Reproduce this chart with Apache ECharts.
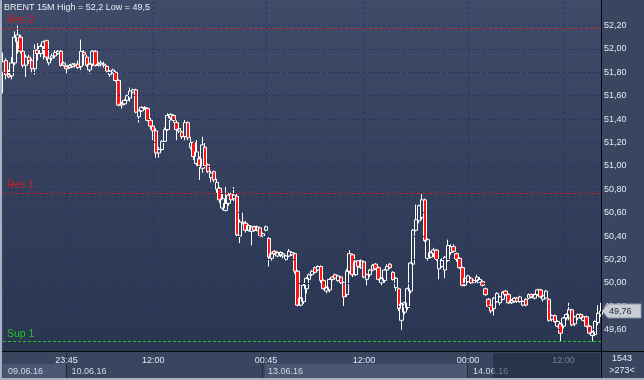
<!DOCTYPE html>
<html><head><meta charset="utf-8">
<script src="https://cdn.jsdelivr.net/npm/echarts@6/dist/echarts.min.js"></script>
<style>html,body{margin:0;padding:0;background:#3a4660;}#c{width:644px;height:380px;}</style>
</head><body><div id="c"></div>
<script>
const titleText = 'BRENT 15M High = 52,2 Low = 49,5';
const opens = [51.80,51.90,51.78,51.77,51.88,52.06,52.10,51.98,51.86,51.93,51.90,51.83,51.99,51.96,52.02,52.07,51.88,51.92,51.94,51.96,
51.98,51.86,51.85,51.84,51.85,51.87,51.87,51.85,51.97,51.93,51.82,51.87,51.98,51.86,51.87,51.87,51.85,51.78,51.80,51.80,
51.73,51.52,51.53,51.56,51.58,51.63,51.65,51.42,51.47,51.50,51.49,51.39,51.34,51.30,51.11,51.14,51.21,51.31,51.41,51.43,
51.37,51.30,51.29,51.25,51.37,51.16,51.20,51.02,51.06,50.98,51.16,51.01,50.90,50.95,50.80,50.81,50.64,50.62,50.68,50.76,
50.72,50.74,50.40,50.51,50.51,50.45,50.44,50.48,50.45,50.47,50.40,50.45,50.38,50.21,50.27,50.23,50.24,50.23,50.20,50.23,
50.24,50.25,50.10,49.81,49.84,49.95,50.03,50.07,50.13,50.11,50.14,50.02,49.93,49.94,50.03,50.07,50.02,50.05,50.00,49.90,
50.10,50.24,50.07,50.19,50.13,50.18,50.03,50.07,50.11,50.16,50.13,50.00,50.02,50.11,50.16,50.09,49.96,49.95,49.68,49.75,
49.79,49.93,50.16,50.45,50.53,50.56,50.71,50.21,50.22,50.25,50.28,50.12,50.14,50.11,50.19,50.26,50.31,50.25,50.21,50.13,
49.98,50.01,50.04,50.00,50.02,50.00,50.01,49.95,49.86,49.81,49.78,49.84,49.83,49.86,49.93,49.90,49.83,49.84,49.87,49.84,
49.81,49.86,49.87,49.90,49.87,49.90,49.94,49.86,49.87,49.86,49.69,49.72,49.63,49.65,49.63,49.70,49.70,49.77,49.65,49.70,
49.73,49.68,49.71,49.63,49.55,49.56,49.66,49.73];
const closes = [51.89,51.78,51.76,51.88,52.10,52.12,51.98,51.86,51.93,51.90,51.83,51.99,51.96,52.02,52.06,51.93,51.92,51.94,51.97,51.98,
51.86,51.88,51.83,51.86,51.87,51.86,51.84,51.98,51.95,51.86,51.87,51.98,51.86,51.87,51.88,51.86,51.81,51.81,51.82,51.73,
51.52,51.53,51.56,51.60,51.64,51.65,51.46,51.47,51.50,51.49,51.39,51.34,51.30,51.11,51.14,51.21,51.31,51.43,51.44,51.39,
51.31,51.32,51.25,51.37,51.24,51.20,51.08,51.12,51.00,51.18,51.00,50.95,50.94,50.88,50.86,50.71,50.72,50.68,50.75,50.71,
50.75,50.41,50.52,50.52,50.45,50.49,50.48,50.45,50.48,50.40,50.42,50.48,50.22,50.25,50.25,50.26,50.26,50.25,50.23,50.27,
50.26,50.10,49.81,49.87,49.98,50.04,50.07,50.10,50.09,50.14,50.02,49.95,49.96,50.03,50.05,50.04,50.06,50.00,49.88,50.10,
50.25,50.07,50.18,50.14,50.19,50.05,50.07,50.11,50.15,50.12,50.03,50.04,50.11,50.14,50.13,50.03,50.04,49.78,49.82,49.83,
49.95,50.17,50.45,50.54,50.66,50.71,50.36,50.37,50.26,50.28,50.20,50.20,50.19,50.22,50.32,50.31,50.27,50.20,50.13,49.98,
50.04,50.06,50.00,50.02,50.05,50.03,49.98,49.90,49.80,49.76,49.87,49.91,49.88,49.92,49.90,49.83,49.85,49.87,49.84,49.88,
49.84,49.81,49.90,49.88,49.90,49.94,49.88,49.89,49.93,49.68,49.72,49.67,49.67,49.57,49.70,49.73,49.77,49.64,49.71,49.73,
49.70,49.71,49.63,49.57,49.58,49.67,49.74,49.76];
const lows = [51.62,51.74,51.75,51.74,51.86,51.96,51.96,51.84,51.76,51.87,51.80,51.78,51.90,51.93,51.91,51.90,51.86,51.90,51.92,51.95,
51.85,51.85,51.79,51.83,51.84,51.84,51.83,51.82,51.86,51.85,51.79,51.85,51.85,51.85,51.85,51.84,51.80,51.76,51.79,51.72,
51.51,51.49,51.52,51.55,51.55,51.62,51.45,51.37,51.46,51.48,51.38,51.31,51.22,51.07,51.07,51.13,51.20,51.30,51.39,51.37,
51.22,51.28,51.23,51.22,51.22,51.14,51.05,51.00,50.88,50.94,50.98,50.94,50.86,50.86,50.77,50.68,50.62,50.61,50.66,50.69,
50.70,50.40,50.34,50.50,50.43,50.44,50.32,50.44,50.44,50.39,50.39,50.44,50.14,50.19,50.24,50.22,50.22,50.21,50.19,50.22,
50.23,50.08,49.80,49.80,49.82,49.91,50.02,50.06,50.08,50.10,50.00,49.94,49.91,49.92,50.02,50.03,50.01,49.99,49.80,49.88,
50.08,50.05,50.06,50.13,50.12,50.04,49.98,50.05,50.10,50.11,50.02,49.98,50.00,50.10,50.12,50.02,49.93,49.76,49.60,49.73,
49.77,49.91,50.14,50.44,50.51,50.54,50.35,50.19,50.21,50.22,50.19,50.03,50.13,50.04,50.18,50.24,50.26,50.18,50.12,49.97,
49.97,50.00,49.99,49.99,50.01,49.99,49.97,49.89,49.79,49.74,49.72,49.83,49.81,49.85,49.89,49.82,49.82,49.83,49.83,49.83,
49.80,49.80,49.86,49.87,49.86,49.89,49.87,49.84,49.86,49.67,49.67,49.66,49.62,49.50,49.61,49.68,49.68,49.63,49.63,49.68,
49.69,49.67,49.62,49.56,49.50,49.55,49.64,49.71];
const highs = [51.97,51.92,51.82,51.93,52.15,52.20,52.12,52.00,51.95,51.95,51.92,52.04,52.05,52.04,52.07,52.08,51.95,51.96,51.99,51.99,
51.99,51.89,51.86,51.87,51.88,51.88,51.90,52.08,51.99,51.95,51.88,51.99,51.99,51.89,51.90,51.89,51.86,51.82,51.83,51.81,
51.74,51.55,51.57,51.61,51.67,51.66,51.66,51.48,51.51,51.51,51.50,51.41,51.35,51.32,51.16,51.22,51.33,51.45,51.45,51.44,
51.39,51.34,51.30,51.40,51.38,51.25,51.21,51.22,51.08,51.25,51.20,51.02,50.96,50.96,50.89,50.82,50.76,50.82,50.77,50.77,
50.82,50.76,50.54,50.60,50.53,50.50,50.49,50.49,50.49,50.48,50.43,50.49,50.40,50.26,50.28,50.27,50.27,50.26,50.24,50.29,
50.27,50.26,50.11,49.88,50.00,50.05,50.08,50.11,50.14,50.15,50.15,50.03,49.97,50.04,50.06,50.08,50.07,50.06,50.01,50.12,
50.28,50.25,50.19,50.20,50.20,50.19,50.08,50.12,50.16,50.17,50.14,50.05,50.12,50.16,50.17,50.10,50.05,49.96,49.83,49.84,
49.96,50.18,50.46,50.67,50.67,50.76,50.72,50.38,50.27,50.30,50.29,50.22,50.21,50.23,50.37,50.33,50.33,50.26,50.22,50.14,
50.05,50.07,50.05,50.03,50.07,50.05,50.02,49.96,49.87,49.84,49.88,49.92,49.89,49.93,49.94,49.91,49.86,49.88,49.88,49.89,
49.85,49.87,49.91,49.91,49.91,49.95,49.95,49.90,49.94,49.87,49.73,49.73,49.68,49.66,49.71,49.74,49.83,49.78,49.72,49.74,
49.74,49.72,49.72,49.64,49.59,49.68,49.81,49.83];
const timeLabelIdx = [22, 52, 91, 125, 161, 194];
const timeLabels = ['23:45', '12:00', '00:45', '12:00', '00:00', '12:00'];
const dateStartIdx = [0, 22, 90, 161];
const dateLabels = ['09.06.16', '10.06.16', '13.06.16', '14.06.16'];
const priceTicks = [49.6, 49.8, 50.0, 50.2, 50.4, 50.6, 50.8, 51.0, 51.2, 51.4, 51.6, 51.8, 52.0, 52.2];
const levelNames = ['Res 2', 'Res 1', 'Sup 1'];
const levelValues = [52.18, 50.77, 49.50];
const lastPrice = 49.76;
const infoTop = '1543';
const infoBottom = '>273<';

const FONT = '"Liberation Sans", Arial, sans-serif';
const levelColors = ['#d01c1c', '#d01c1c', '#22c422'];
const levelDash = [[3, 3], [3, 3], [3, 2]];
const fmtPrice = v => v.toFixed(2).replace('.', ',');

const chart = echarts.init(document.getElementById('c'), null, {renderer: 'canvas', width: 644, height: 380});
const cats = closes.map((_, i) => String(i));
const ohlc = closes.map((c, i) => [opens[i], c, lows[i], highs[i]]);

chart.setOption({
  backgroundColor: '#3a4660',
  animation: false,
  textStyle: {fontFamily: FONT},
  grid: {left: 3, right: 43, top: 2.1, bottom: 26.9, show: false},
  xAxis: {
    type: 'category', data: cats, boundaryGap: false,
    axisLine: {show: false}, axisTick: {show: false},
    axisLabel: {
      interval: (i) => timeLabelIdx.includes(i),
      formatter: (v, i) => { const k = timeLabelIdx.indexOf(i); return k < 0 ? '' : timeLabels[k]; },
      color: '#dfe6f1', fontSize: 9, fontFamily: FONT, margin: 3
    },
    splitLine: {show: true, interval: (i) => timeLabelIdx.includes(i),
      lineStyle: {color: '#1c3363', type: [2, 3], width: 1}}
  },
  yAxis: {
    type: 'value', position: 'right', min: 49.4, max: 52.4, interval: 0.2,
    axisLine: {show: false}, axisTick: {show: false}, splitLine: {show: false},
    axisLabel: {formatter: v => (v < 49.5 || v > 52.3) ? '' : fmtPrice(v),
      color: '#e4eaf5', fontSize: 9, fontFamily: FONT, margin: 3}
  },
  series: [
    {type: 'line', data: [], silent: true, z: 1,
     markLine: {silent: true, symbol: ['none', 'none'], label: {show: false}, animation: false,
       lineStyle: {color: '#1c3363', type: [2, 3], width: 1},
       data: priceTicks.map(v => ({yAxis: v}))}},
    {type: 'candlestick', data: ohlc, barWidth: 4, z: 3,
     itemStyle: {color: 'rgba(0,0,0,0)', color0: '#ff1414', borderColor: '#ffffff', borderColor0: '#ffffff', borderWidth: 1},
     markLine: {silent: true, symbol: ['none', 'none'], animation: false,
       data: levelValues.map((v, i) => ({
         yAxis: v,
         lineStyle: {color: levelColors[i], type: levelDash[i], width: 1},
         label: {show: true, position: 'insideStartTop', formatter: levelNames[i], color: levelColors[i],
           fontSize: 10.5, fontFamily: FONT, distance: [4, 2]}
       }))}}
  ]
});

const px = i => chart.convertToPixel({xAxisIndex: 0}, i);
const els = [];
els.push({type: 'rect', z: -10, silent: true, shape: {x: 3, y: 0, width: 598, height: 351},
  style: {fill: new echarts.graphic.LinearGradient(0, 0, 0, 1, [{offset: 0, color: '#3f4b68'}, {offset: 1, color: '#2a3552'}])}});
for (let k = 0; k < dateStartIdx.length; k++) {
  const x0 = k === 0 ? 3 : px(dateStartIdx[k]);
  const x1 = k + 1 < dateStartIdx.length ? px(dateStartIdx[k + 1]) : 601;
  if (k % 2 === 0) {
    els.push({type: 'rect', z: -5, silent: true, shape: {x: x0 + (k === 0 ? 0 : 2), y: 364, width: x1 - x0 - (k === 0 ? 1 : 2), height: 14},
      style: {fill: '#4b5772'}});
  }
  if (k > 0) {
    els.push({type: 'line', z: -4, silent: true, shape: {x1: Math.round(x0) - 0.5, y1: 352, x2: Math.round(x0) - 0.5, y2: 378},
      style: {stroke: '#242d42', lineWidth: 1}});
  }
  els.push({type: 'text', z: 5, silent: true, style: {text: dateLabels[k], x: x0 + 5, y: 371.5, fill: '#d3dae7',
    font: '9px ' + FONT, textAlign: 'left', textVerticalAlign: 'middle', align: 'left', verticalAlign: 'middle'}});
}
els.push({type: 'line', z: 20, silent: true, shape: {x1: 0, y1: 351.5, x2: 644, y2: 351.5}, style: {stroke: '#05070c', lineWidth: 1}});
els.push({type: 'line', z: 20, silent: true, shape: {x1: 601.5, y1: 0, x2: 601.5, y2: 380}, style: {stroke: '#05070c', lineWidth: 1}});
els.push({type: 'rect', z: 20, silent: true, shape: {x: 0, y: 0, width: 2, height: 380}, style: {fill: '#a9b1c0'}});
els.push({type: 'rect', z: 20, silent: true, shape: {x: 0, y: 378, width: 644, height: 2}, style: {fill: '#a9b1c0'}});
els.push({type: 'rect', z: 30, silent: true, shape: {x: 493, y: 353, width: 107, height: 25}, style: {fill: 'rgba(28,36,60,0.55)'}});
els.push({type: 'text', z: 30, silent: true, style: {text: titleText, x: 4, y: 8, fill: '#e8edf6',
  font: '9px ' + FONT, textAlign: 'left', textVerticalAlign: 'middle', align: 'left', verticalAlign: 'middle'}});
const yp = chart.convertToPixel({yAxisIndex: 0}, lastPrice);
els.push({type: 'polygon', z: 40, silent: true, shape: {points: [[602, yp], [608, yp - 7], [641, yp - 7], [641, yp + 7], [608, yp + 7]]},
  style: {fill: '#c9cdd5', stroke: '#8e96a6', lineWidth: 1}});
els.push({type: 'text', z: 41, silent: true, style: {text: fmtPrice(lastPrice), x: 609, y: yp + 0.5, fill: '#1c2436',
  font: '9px ' + FONT, textAlign: 'left', textVerticalAlign: 'middle', align: 'left', verticalAlign: 'middle'}});
els.push({type: 'text', z: 41, silent: true, style: {text: infoTop, x: 622, y: 358.5, fill: '#e6ebf4',
  font: '9px ' + FONT, textAlign: 'center', textVerticalAlign: 'middle', align: 'center', verticalAlign: 'middle'}});
els.push({type: 'text', z: 41, silent: true, style: {text: infoBottom, x: 622, y: 371, fill: '#e6ebf4',
  font: '9px ' + FONT, textAlign: 'center', textVerticalAlign: 'middle', align: 'center', verticalAlign: 'middle'}});

chart.setOption({graphic: els});
</script>
</body></html>
